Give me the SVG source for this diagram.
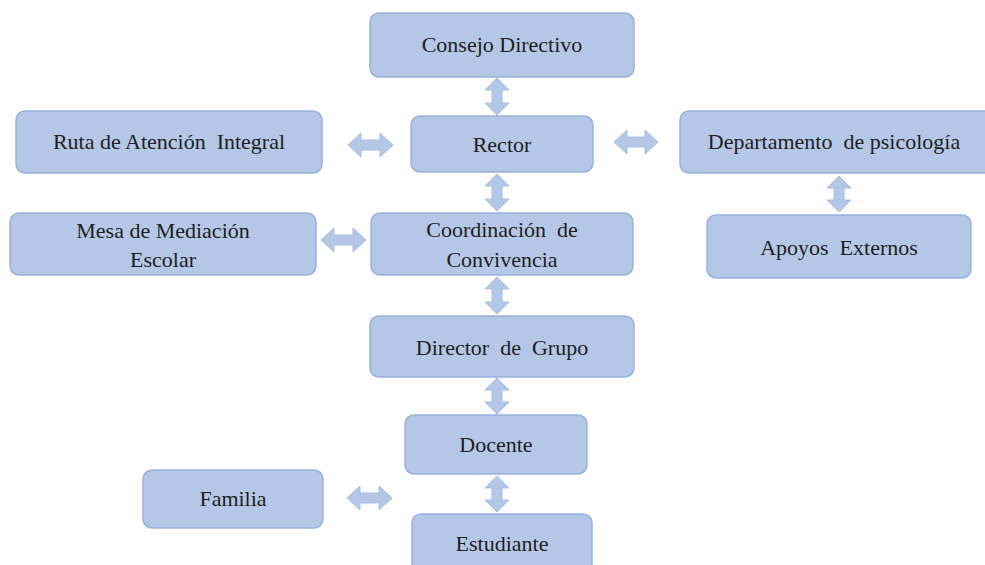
<svg xmlns="http://www.w3.org/2000/svg" width="985" height="565" viewBox="0 0 985 565">
<style>
.box{fill:#b4c7e7;stroke:#98b2de;stroke-width:1.5}
.arr{fill:#b4c7e7;stroke:#a5bde3;stroke-width:1}
.t{font-family:'Liberation Serif','Times New Roman',serif;font-size:22px;fill:#1e1e1e;text-anchor:middle;white-space:pre}
</style>
<rect width="985" height="565" fill="#ffffff"/>
<g id="connectors">
<path class="arr" d="M497,78 L509,90 L502,90 L502,103 L509,103 L497,115 L485,103 L492,103 L492,90 L485,90 Z"/>
<path class="arr" d="M497,174 L509,186 L502,186 L502,199 L509,199 L497,211 L485,199 L492,199 L492,186 L485,186 Z"/>
<path class="arr" d="M497,277 L509,289 L502,289 L502,302 L509,302 L497,314 L485,302 L492,302 L492,289 L485,289 Z"/>
<path class="arr" d="M497,378 L509,390 L502,390 L502,402 L509,402 L497,414 L485,402 L492,402 L492,390 L485,390 Z"/>
<path class="arr" d="M497,476 L509,488 L502,488 L502,500 L509,500 L497,512 L485,500 L492,500 L492,488 L485,488 Z"/>
<path class="arr" d="M839,176 L851,188 L844,188 L844,200 L851,200 L839,212 L827,200 L834,200 L834,188 L827,188 Z"/>
<path class="arr" d="M348,145 L361,133 L361,140 L380,140 L380,133 L393,145 L380,157 L380,150 L361,150 L361,157 Z"/>
<path class="arr" d="M321,240 L334,228 L334,235 L353,235 L353,228 L366,240 L353,252 L353,245 L334,245 L334,252 Z"/>
<path class="arr" d="M614,142 L627,130 L627,137 L645,137 L645,130 L658,142 L645,154 L645,147 L627,147 L627,154 Z"/>
<path class="arr" d="M347,498 L360,486 L360,493 L379,493 L379,486 L392,498 L379,510 L379,503 L360,503 L360,510 Z"/>
</g>
<g id="consejo"><rect class="box" x="370" y="13" width="264" height="64" rx="9"/><text class="t" x="502" y="52">Consejo Directivo</text></g>
<g id="rector"><rect class="box" x="411" y="116" width="182" height="56" rx="9"/><text class="t" x="502" y="152">Rector</text></g>
<g id="ruta"><rect class="box" x="16" y="111" width="306" height="62" rx="9"/><text class="t" x="169" y="149">Ruta de Atención  Integral</text></g>
<g id="departamento"><rect class="box" x="680" y="111" width="315" height="62" rx="9"/><text class="t" x="834" y="149">Departamento  de psicología</text></g>
<g id="mesa"><rect class="box" x="10" y="213" width="306" height="62" rx="9"/><text class="t" x="163" y="238">Mesa de Mediación</text><text class="t" x="163" y="267">Escolar</text></g>
<g id="coordinacion"><rect class="box" x="371" y="213" width="262" height="62" rx="9"/><text class="t" x="502" y="237">Coordinación  de</text><text class="t" x="502" y="267">Convivencia</text></g>
<g id="apoyos"><rect class="box" x="707" y="215" width="264" height="63" rx="9"/><text class="t" x="839" y="255">Apoyos  Externos</text></g>
<g id="director"><rect class="box" x="370" y="316" width="264" height="61" rx="9"/><text class="t" x="502" y="355">Director  de  Grupo</text></g>
<g id="docente"><rect class="box" x="405" y="415" width="182" height="59" rx="9"/><text class="t" x="496" y="452">Docente</text></g>
<g id="estudiante"><rect class="box" x="412" y="514" width="180" height="70" rx="9"/><text class="t" x="502" y="551">Estudiante</text></g>
<g id="familia"><rect class="box" x="143" y="470" width="180" height="58" rx="9"/><text class="t" x="233" y="506">Familia</text></g>
</svg>
